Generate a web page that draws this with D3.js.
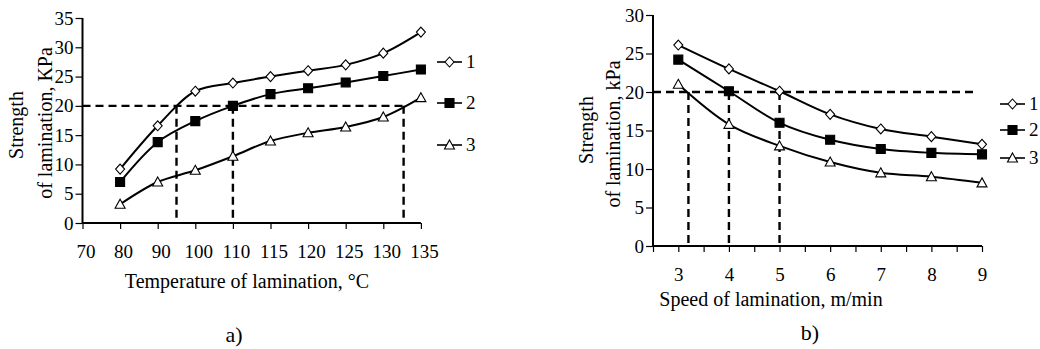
<!DOCTYPE html>
<html>
<head>
<meta charset="utf-8">
<script src="https://cdn.jsdelivr.net/npm/d3@7/dist/d3.min.js"></script>
<style>
html,body{margin:0;padding:0;background:#fff;}
svg{display:block;}
svg text{font-family:"Liberation Serif","Times New Roman",serif !important;fill:#000;}
</style>
</head>
<body>
<svg id="chart" width="1040" height="349"></svg>
<script>
// ---------- DATA: chart a) ----------
const tempCategories = [70, 80, 90, 100, 110, 115, 120, 125, 130, 135];
const tempSeries1 = [null, 9.2, 16.6, 22.5, 23.9, 25.0, 26.0, 27.0, 29.0, 32.6];
const tempSeries2 = [null, 7.0, 13.8, 17.4, 20.0, 22.0, 23.0, 24.0, 25.1, 26.2];
const tempSeries3 = [null, 3.2, 7.0, 9.0, 11.4, 14.0, 15.4, 16.4, 18.1, 21.4];
const tempYTicks = [0, 5, 10, 15, 20, 25, 30, 35];
const tempGuideY = 20;
const tempGuideX = [95, 110, 132.7];

// ---------- DATA: chart b) ----------
const speedCategories = [3, 4, 5, 6, 7, 8, 9];
const speedSeries1 = [26.1, 23.0, 20.1, 17.1, 15.2, 14.2, 13.2];
const speedSeries2 = [24.2, 20.1, 16.0, 13.8, 12.6, 12.1, 11.9];
const speedSeries3 = [21.0, 15.8, 13.0, 10.9, 9.5, 9.0, 8.2];
const speedYTicks = [0, 5, 10, 15, 20, 25, 30];
const speedXTicks = [3, 4, 5, 6, 7, 8, 9];
const speedGuideY = 20;
const speedGuideX = [3.2, 4, 5];

const legendLabels = ["1", "2", "3"];

// ---------- helpers ----------
const svg = d3.select("#chart");
const markerTypes = ["diamond", "square", "triangle"];
const SERIF = '"Liberation Serif","Times New Roman",serif';

function markerPath(type) {
  if (type === "diamond") return "M0,-5L4.5,0L0,5L-4.5,0Z";
  if (type === "square") return "M-4.5,-4.5H4.5V4.5H-4.5Z";
  return "M0,-5L5,4H-5Z";
}
function markerStyle(sel, type) {
  sel.attr("d", markerPath(type))
    .attr("fill", type === "square" ? "#000" : "#fff")
    .attr("stroke", "#000")
    .attr("stroke-width", 1.1);
}

function drawPanel(cfg) {
  const g = svg.append("g");
  const x = cfg.x, y = cfg.y;

  // y axis
  const yAxis = d3.axisLeft(y).tickValues(cfg.yTicks).tickSize(7).tickPadding(2).tickFormat(d3.format("d"));
  const ya = g.append("g").attr("transform", `translate(${cfg.axisX},0)`).call(yAxis)
    .attr("font-family", SERIF).attr("font-size", 19);
  ya.select(".domain").attr("stroke", "#000").attr("stroke-width", 2)
    .attr("d", `M0,${y.range()[0]}V${y.range()[1]}`);
  ya.selectAll(".tick line").attr("stroke", "#000").attr("stroke-width", 1.2);
  ya.selectAll(".tick text").style("font-size", "19px").style("font-family", SERIF).attr("fill", "#000");

  // x axis
  const xa = g.append("g").attr("transform", `translate(0,${cfg.axisY})`);
  const xAxis = d3.axisBottom(x).tickValues(cfg.xTickValues).tickSize(6).tickPadding(cfg.xPad)
    .tickFormat(cfg.xTickFormat);
  xa.call(xAxis).attr("font-family", SERIF).attr("font-size", 19);
  xa.select(".domain").attr("stroke", "#000").attr("stroke-width", 2)
    .attr("d", `M${cfg.axisX},0H${cfg.xEnd}`);
  xa.selectAll(".tick line").attr("stroke", "#000").attr("stroke-width", 1.2);
  xa.selectAll(".tick text").style("font-size", "19px").style("font-family", SERIF).attr("fill", "#000")
    .attr("dx", cfg.xLabelDx || 0);

  // guides
  const gy = y(cfg.guideY);
  g.append("line").attr("x1", cfg.axisX).attr("x2", cfg.guideEndX)
    .attr("y1", gy).attr("y2", gy)
    .attr("stroke", "#000").attr("stroke-width", 2.4).attr("stroke-dasharray", "8,5");
  g.selectAll(".vguide").data(cfg.guideX).enter().append("line")
    .attr("x1", d => cfg.guideScale(d)).attr("x2", d => cfg.guideScale(d))
    .attr("y1", gy).attr("y2", cfg.axisY)
    .attr("stroke", "#000").attr("stroke-width", 2.4).attr("stroke-dasharray", "8,5");

  // series
  const line = d3.line()
    .defined(d => d.v !== null)
    .x(d => x(d.c)).y(d => y(d.v))
    .curve(d3.curveCatmullRom.alpha(0.5));
  cfg.series.forEach((vals, si) => {
    const pts = cfg.cats.map((c, i) => ({c, v: vals[i]})).filter(d => d.v !== null);
    g.append("path").datum(pts).attr("d", line)
      .attr("fill", "none").attr("stroke", "#000").attr("stroke-width", 2);
    g.selectAll(".m" + si).data(pts).enter().append("path")
      .attr("transform", d => `translate(${x(d.c)},${y(d.v)})`)
      .call(markerStyle, markerTypes[si]);
  });

  // legend
  cfg.legendY.forEach((ly, i) => {
    const lg = g.append("g").attr("transform", `translate(${cfg.legendX},${ly})`);
    lg.append("line").attr("x1", 0).attr("x2", 25).attr("y1", 0).attr("y2", 0)
      .attr("stroke", "#000").attr("stroke-width", 1.6);
    lg.append("path").attr("transform", "translate(12.5,0)").call(markerStyle, markerTypes[i]);
    lg.append("text").attr("x", 29).attr("y", 6).style("font-size", "19px").text(legendLabels[i]);
  });

  // axis titles
  g.append("text").attr("x", cfg.xTitle[0]).attr("y", cfg.xTitle[1]).attr("text-anchor", "middle")
    .style("font-size", "20px").text(cfg.xTitleText);
  g.append("text").attr("transform", `translate(${cfg.yTitle1[0]},${cfg.yTitle1[1]}) rotate(-90)`)
    .attr("text-anchor", "middle").style("font-size", "20px").text("Strength");
  g.append("text").attr("transform", `translate(${cfg.yTitle2[0]},${cfg.yTitle2[1]}) rotate(-90)`)
    .attr("text-anchor", "middle").style("font-size", "20px").text(cfg.yTitle2Text);
  g.append("text").attr("x", cfg.caption[0]).attr("y", cfg.caption[1]).attr("text-anchor", "middle")
    .style("font-size", "22px").text(cfg.captionText);
}

// ---------- panel a ----------
const aX0 = 82.5, aStep = 37.6;
const xA = d3.scalePoint().domain(tempCategories).range([aX0, aX0 + aStep * (tempCategories.length - 1)]);
const xAlin = d3.scaleLinear().domain(tempCategories).range(tempCategories.map(c => xA(c)));
const yA = d3.scaleLinear().domain([0, 35]).range([223, 18]);
drawPanel({
  x: xA, y: yA, cats: tempCategories,
  series: [tempSeries1, tempSeries2, tempSeries3],
  yTicks: tempYTicks, xTickValues: tempCategories, xTickFormat: d => d, xPad: 16, xLabelDx: 3,
  axisX: aX0, axisY: 223, xEnd: xA(135),
  guideY: tempGuideY, guideX: tempGuideX, guideScale: xAlin, guideEndX: xAlin(132.7),
  legendX: 437, legendY: [62, 103, 145],
  xTitle: [247, 288], xTitleText: "Temperature of lamination, \u00B0C",
  yTitle1: [23, 125], yTitle2: [52, 123], yTitle2Text: "of lamination, KPa",
  caption: [234, 342], captionText: "a)"
});

// ---------- panel b ----------
const xB = d3.scaleLinear().domain([2.5, 9]).range([653, 982]);
const yB = d3.scaleLinear().domain([0, 30]).range([246, 15]);
const bTicks = d3.range(2.5, 9.01, 0.5);
drawPanel({
  x: xB, y: yB, cats: speedCategories,
  series: [speedSeries1, speedSeries2, speedSeries3],
  yTicks: speedYTicks, xTickValues: bTicks,
  xTickFormat: d => (speedXTicks.includes(d) ? d : ""), xPad: 16,
  axisX: 653, axisY: 246, xEnd: 982,
  guideY: speedGuideY, guideX: speedGuideX, guideScale: xB, guideEndX: 977,
  legendX: 1000, legendY: [104, 130, 158],
  xTitle: [771, 306], xTitleText: "Speed of lamination, m/min",
  yTitle1: [593, 130], yTitle2: [620, 134], yTitle2Text: "of lamination, kPa",
  caption: [810, 340], captionText: "b)"
});
</script>
</body>
</html>
